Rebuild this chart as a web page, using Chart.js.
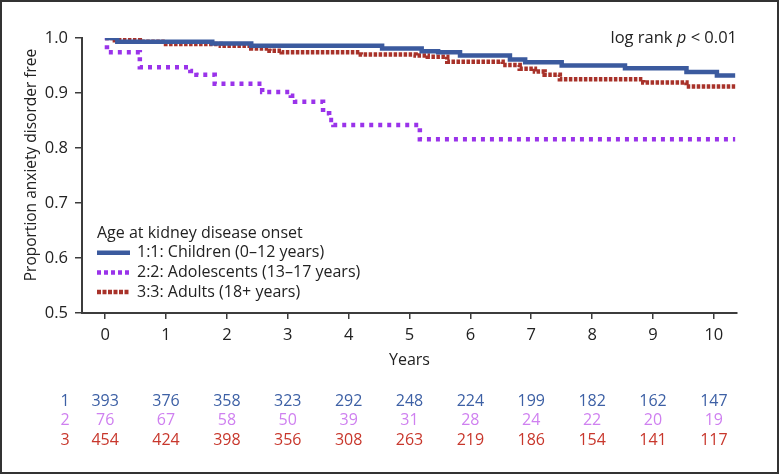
<!DOCTYPE html>
<html>
<head>
<meta charset="utf-8">
<script src="https://cdn.jsdelivr.net/npm/chart.js@4"></script>
<style>
  body { margin: 0; background: #fff; }
</style>
</head>
<body>
<canvas id="kmChart" width="779" height="474"></canvas>
<script>
// x-axis ticks (years) and y-axis ticks
const years = [0, 1, 2, 3, 4, 5, 6, 7, 8, 9, 10];
const yTicks = [0.5, 0.6, 0.7, 0.8, 0.9, 1.0];

const groupLabels = [
  '1:1: Children (0\u201312 years)',
  '2:2: Adolescents (13\u201317 years)',
  '3:3: Adults (18+ years)'
];

// Kaplan-Meier steps (time in years, proportion free)
const childrenTime = [0, 0.2, 1.76, 2.4, 4.55, 5.2, 5.47, 5.83, 6.65, 6.9, 7.5, 8.54, 9.55, 10.05, 10.35];
const childrenSurv = [1.0, 0.993, 0.990, 0.986, 0.981, 0.976, 0.974, 0.968, 0.961, 0.956, 0.950, 0.945, 0.938, 0.932, 0.932];

const adolescentsTime = [0, 0.03, 0.57, 1.4, 1.5, 1.8, 2.58, 3.05, 3.12, 3.58, 3.68, 3.75, 5.17, 10.35];
const adolescentsSurv = [1.0, 0.974, 0.947, 0.940, 0.933, 0.917, 0.902, 0.895, 0.884, 0.863, 0.851, 0.842, 0.816, 0.816];

const adultsTime = [0, 0.16, 0.57, 1.0, 1.9, 2.4, 2.7, 2.9, 4.2, 5.1, 5.3, 5.62, 6.53, 6.81, 7.06, 7.22, 7.47, 8.84, 9.55, 10.35];
const adultsSurv = [1.0, 0.996, 0.993, 0.989, 0.986, 0.981, 0.977, 0.974, 0.970, 0.968, 0.966, 0.957, 0.951, 0.944, 0.939, 0.933, 0.925, 0.919, 0.912, 0.912];

// numbers at risk under each year tick
const atRiskChildren = [393, 376, 358, 323, 292, 248, 224, 199, 182, 162, 147];
const atRiskAdolescents = [76, 67, 58, 50, 39, 31, 28, 24, 22, 20, 19];
const atRiskAdults = [454, 424, 398, 356, 308, 263, 219, 186, 154, 141, 117];

const FONT = "'Open Sans', 'Noto Sans', sans-serif";
const TEXT = '#222';
const AXIS = '#3c3c3c';

function toPoints(times, surv) {
  return times.map((t, i) => ({ x: t, y: surv[i] }));
}

Chart.defaults.font.family = FONT;
Chart.defaults.font.size = 16;
Chart.defaults.color = TEXT;

// white background, dark frame, y-axis title
const framePlugin = {
  id: 'frame',
  beforeDraw(chart) {
    const c = chart.ctx;
    c.save();
    c.fillStyle = '#fff';
    c.fillRect(0, 0, chart.width, chart.height);
    c.restore();
  },
  afterDraw(chart, args, opts) {
    const c = chart.ctx;
    c.save();
    c.strokeStyle = '#333';
    c.lineWidth = 2;
    c.strokeRect(1, 1, chart.width - 2, chart.height - 2);
    // y title, rotated
    c.translate(opts.yTitleX, opts.yTitleY);
    c.rotate(-Math.PI / 2);
    c.font = '15.5px ' + FONT;
    c.fillStyle = TEXT;
    c.textAlign = 'center';
    c.textBaseline = 'middle';
    c.fillText(opts.yTitle, 0, 0);
    c.restore();
  }
};

// legend inside the plot area, with its title
const kmLegend = {
  id: 'kmLegend',
  afterDatasetsDraw(chart, args, opts) {
    const c = chart.ctx;
    c.save();
    c.font = '16px ' + FONT;
    c.fillStyle = TEXT;
    c.textBaseline = 'middle';
    c.textAlign = 'left';
    c.fillText(opts.title, opts.x, opts.y);
    chart.data.datasets.forEach((ds, i) => {
      const y = opts.y + (i + 1) * opts.rowGap;
      c.strokeStyle = ds.borderColor;
      c.lineWidth = ds.borderWidth;
      c.setLineDash(ds.legendDash || []);
      c.lineCap = 'butt';
      c.beginPath();
      c.moveTo(opts.x, y);
      c.lineTo(opts.x + opts.sample, y);
      c.stroke();
      c.setLineDash([]);
      c.fillText(ds.label, opts.x + opts.sample + 7, y);
    });
    c.restore();
  }
};

// "log rank p < 0.01" in the top right corner
const logRank = {
  id: 'logRank',
  afterDatasetsDraw(chart) {
    const c = chart.ctx;
    const area = chart.chartArea;
    const parts = [['log rank ', 'normal'], ['p', 'italic'], [' < 0.01', 'normal']];
    c.save();
    c.fillStyle = TEXT;
    c.textBaseline = 'middle';
    c.textAlign = 'left';
    let total = 0;
    parts.forEach(p => { c.font = p[1] + ' 16.5px ' + FONT; total += c.measureText(p[0]).width; });
    let x = area.right - total;
    parts.forEach(p => {
      c.font = p[1] + ' 16.5px ' + FONT;
      c.fillText(p[0], x, area.top);
      x += c.measureText(p[0]).width;
    });
    c.restore();
  }
};

// numbers-at-risk table below the x axis
const riskTable = {
  id: 'riskTable',
  afterDraw(chart, args, opts) {
    const c = chart.ctx;
    const xs = chart.scales.x;
    const rows = [atRiskChildren, atRiskAdolescents, atRiskAdults];
    c.save();
    c.font = '16px ' + FONT;
    c.textAlign = 'center';
    c.textBaseline = 'middle';
    rows.forEach((row, r) => {
      const y = opts.rowY[r];
      c.fillStyle = opts.colors[r];
      c.fillText(String(r + 1), opts.labelX, y);
      row.forEach((n, i) => {
        c.fillText(String(n), xs.getPixelForValue(years[i]), y);
      });
    });
    c.restore();
  }
};

new Chart(document.getElementById('kmChart'), {
  type: 'line',
  data: {
    datasets: [{
      label: groupLabels[0],
      data: toPoints(childrenTime, childrenSurv),
      borderColor: '#3b5a9e',
      borderWidth: 4.5,
      legendDash: [],
      stepped: 'before'
    }, {
      label: groupLabels[1],
      data: toPoints(adolescentsTime, adolescentsSurv),
      borderColor: '#9a33ea',
      borderWidth: 4.5,
      borderDash: [4, 5],
      legendDash: [4, 3],
      stepped: 'before'
    }, {
      label: groupLabels[2],
      data: toPoints(adultsTime, adultsSurv),
      borderColor: '#a8322a',
      borderWidth: 4.5,
      borderDash: [3.5, 1.5],
      legendDash: [4, 1.5],
      stepped: 'before'
    }]
  },
  options: {
    responsive: false,
    animation: false,
    events: [],
    elements: {
      point: { radius: 0 },
      line: { fill: false, tension: 0, borderCapStyle: 'butt', borderJoinStyle: 'miter' }
    },
    layout: { padding: { left: 0, right: 42, top: 38, bottom: 101 } },
    scales: {
      x: {
        type: 'linear',
        min: -0.38,
        max: 10.38,
        afterBuildTicks: s => { s.ticks = years.map(v => ({ value: v })); },
        afterFit: s => { s.height = 60; },
        grid: { drawOnChartArea: false, drawTicks: true, tickLength: 6, color: AXIS, lineWidth: 1.5 },
        border: { display: true, color: AXIS, width: 2 },
        ticks: { padding: 6, color: TEXT, font: { size: 16.5 } },
        title: { display: true, text: 'Years', color: TEXT, font: { size: 16 }, padding: { top: 0, bottom: 3 } }
      },
      y: {
        type: 'linear',
        min: 0.5,
        max: 1.0,
        afterBuildTicks: s => { s.ticks = yTicks.map(v => ({ value: v })); },
        afterFit: s => { s.width = 82; },
        grid: { drawOnChartArea: false, drawTicks: true, tickLength: 7, color: AXIS, lineWidth: 1.5 },
        border: { display: true, color: AXIS, width: 2 },
        ticks: { padding: 7, color: TEXT, font: { size: 16.5 }, callback: v => v.toFixed(1) },
        title: { display: false }
      }
    },
    plugins: {
      legend: { display: false },
      tooltip: { enabled: false },
      frame: { yTitle: 'Proportion anxiety disorder free', yTitleX: 32, yTitleY: 165 },
      kmLegend: { title: 'Age at kidney disease onset', x: 97, y: 233, rowGap: 19.7, sample: 33 },
      riskTable: {
        labelX: 65,
        rowY: [401, 420, 440],
        colors: ['#3d60a5', '#cf80f0', '#c8372c']
      }
    }
  },
  plugins: [framePlugin, kmLegend, logRank, riskTable]
});
</script>
</body>
</html>
